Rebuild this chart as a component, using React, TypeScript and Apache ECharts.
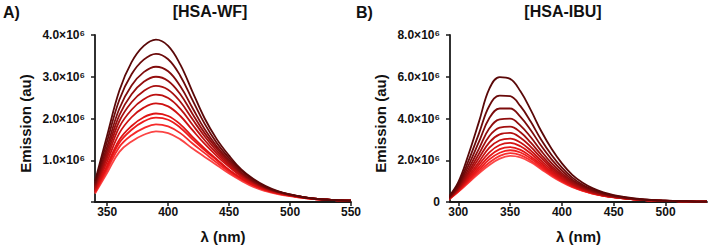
import React, { useEffect, useRef } from "react";
import * as echarts from "echarts";

// Wavelengths (nm)
const lambdaA = [340, 350, 360, 370, 380, 390, 400, 410, 420, 430, 440, 450, 460, 470, 480, 490, 500, 510, 520, 530, 540, 550];
const lambdaB = [290, 300, 310, 320, 330, 340, 350, 360, 370, 380, 390, 400, 410, 420, 430, 440, 450, 460, 470, 480, 490, 500, 510, 520, 530, 540];

// Emission values in units of 10^6 (au), panel A [HSA-WF]
const wf0 = [0.50, 1.60, 2.67, 3.35, 3.74, 3.89, 3.74, 3.29, 2.64, 2.00, 1.50, 1.11, 0.78, 0.55, 0.38, 0.26, 0.18, 0.12, 0.08, 0.05, 0.04, 0.03];
const wf1 = [0.45, 1.46, 2.45, 3.06, 3.41, 3.55, 3.42, 3.02, 2.44, 1.87, 1.41, 1.05, 0.75, 0.53, 0.36, 0.25, 0.18, 0.12, 0.08, 0.06, 0.04, 0.03];
const wf2 = [0.41, 1.33, 2.24, 2.79, 3.11, 3.24, 3.13, 2.77, 2.25, 1.74, 1.33, 1.00, 0.71, 0.50, 0.35, 0.25, 0.17, 0.12, 0.08, 0.06, 0.04, 0.03];
const wf3 = [0.38, 1.23, 2.08, 2.58, 2.88, 3.00, 2.90, 2.58, 2.11, 1.65, 1.28, 0.96, 0.69, 0.49, 0.34, 0.24, 0.17, 0.12, 0.08, 0.06, 0.04, 0.03];
const wf4 = [0.34, 1.14, 1.94, 2.39, 2.66, 2.78, 2.69, 2.40, 1.98, 1.57, 1.22, 0.92, 0.67, 0.47, 0.33, 0.24, 0.17, 0.12, 0.08, 0.06, 0.04, 0.03];
const wf5 = [0.32, 1.06, 1.80, 2.21, 2.46, 2.57, 2.49, 2.23, 1.85, 1.48, 1.16, 0.88, 0.64, 0.46, 0.32, 0.23, 0.17, 0.12, 0.08, 0.06, 0.04, 0.03];
const wf6 = [0.29, 0.97, 1.65, 2.03, 2.26, 2.36, 2.29, 2.06, 1.72, 1.39, 1.10, 0.84, 0.61, 0.44, 0.31, 0.22, 0.16, 0.11, 0.08, 0.06, 0.04, 0.03];
const wf7 = [0.26, 0.88, 1.49, 1.82, 2.03, 2.12, 2.06, 1.86, 1.56, 1.28, 1.02, 0.77, 0.57, 0.41, 0.29, 0.21, 0.15, 0.11, 0.07, 0.05, 0.04, 0.03];
const wf8 = [0.24, 0.83, 1.42, 1.73, 1.93, 2.02, 1.97, 1.78, 1.50, 1.24, 1.00, 0.76, 0.57, 0.40, 0.29, 0.21, 0.15, 0.11, 0.07, 0.05, 0.04, 0.03];
const wf9 = [0.22, 0.77, 1.32, 1.60, 1.77, 1.86, 1.81, 1.65, 1.40, 1.17, 0.94, 0.72, 0.54, 0.39, 0.28, 0.20, 0.15, 0.10, 0.07, 0.05, 0.04, 0.03];
const wf10 = [0.20, 0.70, 1.20, 1.45, 1.61, 1.69, 1.65, 1.50, 1.28, 1.08, 0.88, 0.68, 0.51, 0.36, 0.26, 0.19, 0.14, 0.10, 0.07, 0.05, 0.04, 0.03];
const seriesA = [wf0, wf1, wf2, wf3, wf4, wf5, wf6, wf7, wf8, wf9, wf10];

// Panel B [HSA-IBU]
const ibu0 = [0.20, 0.95, 2.30, 3.85, 5.43, 5.98, 5.90, 5.30, 4.40, 3.40, 2.55, 1.85, 1.30, 0.92, 0.65, 0.46, 0.33, 0.24, 0.17, 0.12, 0.09, 0.07, 0.05, 0.04, 0.02, 0.02];
const ibu1 = [0.17, 0.85, 1.99, 3.29, 4.61, 5.10, 5.07, 4.59, 3.84, 2.98, 2.25, 1.65, 1.17, 0.83, 0.59, 0.42, 0.31, 0.22, 0.16, 0.11, 0.08, 0.06, 0.04, 0.03, 0.02, 0.02];
const ibu2 = [0.16, 0.77, 1.77, 2.89, 4.02, 4.48, 4.48, 4.08, 3.44, 2.69, 2.04, 1.50, 1.07, 0.77, 0.55, 0.39, 0.29, 0.21, 0.15, 0.11, 0.08, 0.06, 0.04, 0.03, 0.02, 0.02];
const ibu3 = [0.14, 0.71, 1.59, 2.56, 3.53, 3.96, 3.99, 3.66, 3.10, 2.45, 1.86, 1.38, 0.99, 0.72, 0.51, 0.37, 0.27, 0.20, 0.14, 0.10, 0.08, 0.06, 0.04, 0.03, 0.02, 0.02];
const ibu4 = [0.13, 0.66, 1.45, 2.31, 3.16, 3.56, 3.61, 3.34, 2.84, 2.26, 1.73, 1.29, 0.93, 0.68, 0.48, 0.35, 0.26, 0.19, 0.14, 0.10, 0.08, 0.05, 0.04, 0.03, 0.02, 0.02];
const ibu5 = [0.12, 0.62, 1.34, 2.11, 2.86, 3.24, 3.31, 3.08, 2.64, 2.11, 1.63, 1.22, 0.88, 0.64, 0.46, 0.34, 0.25, 0.19, 0.14, 0.10, 0.07, 0.05, 0.04, 0.03, 0.02, 0.02];
const ibu6 = [0.11, 0.59, 1.24, 1.93, 2.60, 2.96, 3.04, 2.85, 2.46, 1.98, 1.53, 1.15, 0.84, 0.62, 0.44, 0.32, 0.24, 0.18, 0.13, 0.09, 0.07, 0.05, 0.04, 0.03, 0.02, 0.02];
const ibu7 = [0.11, 0.56, 1.16, 1.79, 2.38, 2.73, 2.83, 2.67, 2.32, 1.87, 1.45, 1.10, 0.80, 0.59, 0.43, 0.31, 0.24, 0.18, 0.13, 0.09, 0.07, 0.05, 0.04, 0.03, 0.02, 0.02];
const ibu8 = [0.10, 0.54, 1.08, 1.66, 2.19, 2.53, 2.63, 2.50, 2.18, 1.78, 1.38, 1.05, 0.77, 0.57, 0.42, 0.31, 0.23, 0.17, 0.13, 0.09, 0.07, 0.05, 0.04, 0.03, 0.02, 0.02];
const ibu9 = [0.10, 0.52, 1.03, 1.55, 2.04, 2.36, 2.48, 2.37, 2.08, 1.70, 1.33, 1.01, 0.75, 0.56, 0.41, 0.30, 0.23, 0.17, 0.12, 0.09, 0.07, 0.05, 0.04, 0.03, 0.02, 0.02];
const ibu10 = [0.09, 0.50, 0.97, 1.45, 1.89, 2.21, 2.34, 2.25, 1.98, 1.63, 1.28, 0.98, 0.73, 0.54, 0.40, 0.29, 0.22, 0.17, 0.12, 0.09, 0.07, 0.05, 0.04, 0.03, 0.02, 0.02];
const ibu11 = [0.09, 0.49, 0.93, 1.37, 1.77, 2.08, 2.21, 2.14, 1.90, 1.57, 1.24, 0.95, 0.71, 0.53, 0.39, 0.29, 0.22, 0.17, 0.12, 0.09, 0.07, 0.05, 0.04, 0.03, 0.02, 0.02];
const seriesB = [ibu0, ibu1, ibu2, ibu3, ibu4, ibu5, ibu6, ibu7, ibu8, ibu9, ibu10, ibu11];

// Tick values
const xTicksA = [350, 400, 450, 500, 550];
const xTicksB = [300, 350, 400, 450, 500];

const colorsA = ["#5a0808", "#6c0a0a", "#800c0c", "#950e0e", "#a90f0f", "#bc1010", "#ce1111", "#df1414", "#ec1b1b", "#f52a2a", "#fb4444"];
const colorsB = ["#5a0808", "#6a0a0a", "#7c0b0b", "#8f0d0d", "#a20e0e", "#b40f0f", "#c61111", "#d61313", "#e41717", "#ef1f1f", "#f72f2f", "#fc4848"];

const FONT = '"Liberation Sans", Arial, Helvetica, sans-serif';

const fmtY = (zeroLabel: string) => (v: number) =>
  v === 0 ? zeroLabel : v.toFixed(1) + "×10⁶";

export default function App() {
  const ref = useRef<HTMLDivElement>(null);

  useEffect(() => {
    if (!ref.current) return;
    const chart = echarts.init(ref.current, undefined, { renderer: "svg" });

    const axisLine = { show: true, lineStyle: { color: "#1a1a1a", width: 1.8 } };
    const axisTick = { show: true, length: 4, lineStyle: { color: "#1a1a1a", width: 1.5 } };
    const tickLabel = { color: "#111", fontSize: 12, fontWeight: "bold" as const, fontFamily: FONT };
    const nameStyle = { color: "#111", fontSize: 15, fontWeight: "bold" as const, fontFamily: FONT };
    const headStyle = { fill: "#111", fontSize: 16, fontWeight: "bold", fontFamily: FONT, verticalAlign: "middle" };

    const makeSeries = (lam: number[], sets: number[][], colors: string[], axisIdx: number) =>
      sets.map((ys, i) => ({
        type: "line" as const,
        xAxisIndex: axisIdx,
        yAxisIndex: axisIdx,
        data: ys.map((y, j) => [lam[j], y]),
        smooth: 0.4,
        showSymbol: false,
        symbol: "none",
        lineStyle: { color: colors[i], width: 1.8 },
        z: 2 + (sets.length - i),
      }));

    chart.setOption({
      animation: false,
      backgroundColor: "#fff",
      grid: [
        { left: 95, top: 35, width: 256, height: 170 },
        { left: 450, top: 35, width: 257, height: 170 },
      ],
      xAxis: [
        {
          type: "value",
          gridIndex: 0,
          min: 340,
          max: 550,
          splitLine: { show: false },
          axisLine,
          axisTick: { ...axisTick, customValues: xTicksA },
          axisLabel: { ...tickLabel, margin: 4, customValues: xTicksA },
          name: "λ (nm)",
          nameLocation: "middle",
          nameGap: 27,
          nameTextStyle: nameStyle,
        },
        {
          type: "value",
          gridIndex: 1,
          min: 292,
          max: 540,
          splitLine: { show: false },
          axisLine,
          axisTick: { ...axisTick, customValues: xTicksB },
          axisLabel: { ...tickLabel, margin: 4, customValues: xTicksB },
          name: "λ (nm)",
          nameLocation: "middle",
          nameGap: 27,
          nameTextStyle: nameStyle,
        },
      ],
      yAxis: [
        {
          type: "value",
          gridIndex: 0,
          min: 0,
          max: 4,
          interval: 1,
          splitLine: { show: false },
          axisLine,
          axisTick,
          axisLabel: { ...tickLabel, margin: 10, formatter: fmtY("") },
          name: "Emission (au)",
          nameLocation: "middle",
          nameGap: 62,
          nameTextStyle: { ...nameStyle, padding: [0, 10, 0, 0] },
        },
        {
          type: "value",
          gridIndex: 1,
          min: 0,
          max: 8,
          interval: 2,
          splitLine: { show: false },
          axisLine,
          axisTick,
          axisLabel: { ...tickLabel, margin: 10, formatter: fmtY("0") },
          name: "Emission (au)",
          nameLocation: "middle",
          nameGap: 62,
          nameTextStyle: { ...nameStyle, padding: [0, 10, 0, 0] },
        },
      ],
      graphic: [
        { type: "text", x: 3, y: 12, style: { ...headStyle, text: "A)", align: "left" } },
        { type: "text", x: 356, y: 12, style: { ...headStyle, text: "B)", align: "left" } },
        { type: "text", x: 210, y: 11, style: { ...headStyle, text: "[HSA-WF]", align: "center" } },
        { type: "text", x: 563, y: 11, style: { ...headStyle, text: "[HSA-IBU]", align: "center" } },
      ],
      series: [
        ...makeSeries(lambdaA, seriesA, colorsA, 0),
        ...makeSeries(lambdaB, seriesB, colorsB, 1),
      ],
    });

    return () => chart.dispose();
  }, []);

  return (
    <div
      ref={ref}
      style={{ position: "fixed", left: 0, top: 0, width: 709, height: 249, background: "#fff" }}
    />
  );
}
